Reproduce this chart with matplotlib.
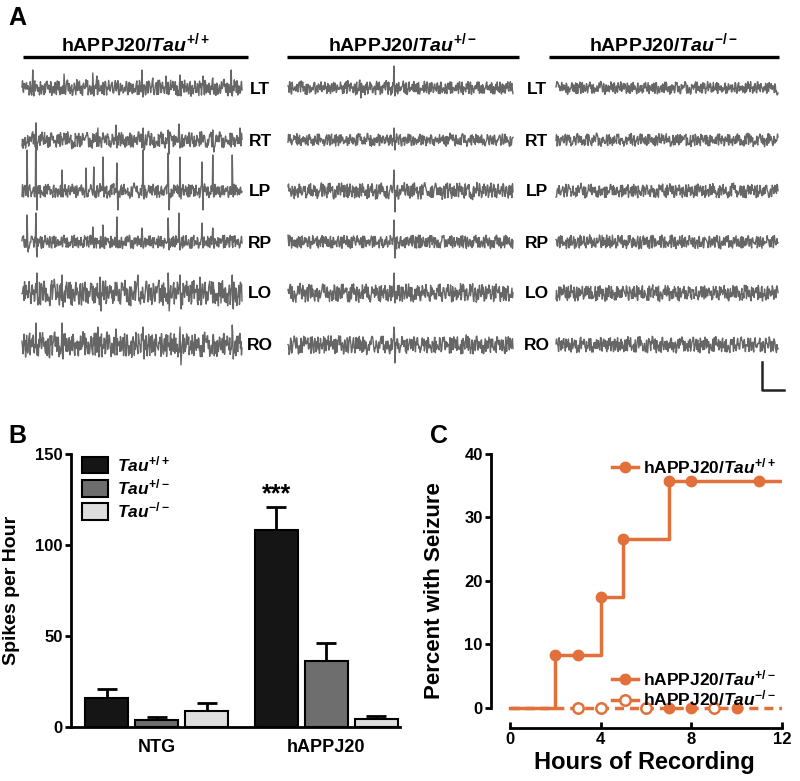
#!/usr/bin/env python
"""EEG traces, spike frequency and seizure incidence in hAPPJ20 mice by Tau genotype."""

import numpy as np
import matplotlib

matplotlib.use("Agg")
import matplotlib.pyplot as plt
from matplotlib.lines import Line2D
from matplotlib.patches import Patch

plt.rcParams.update({
    "font.family": ["Liberation Sans", "DejaVu Sans"],
    "font.weight": "bold",
    "axes.labelweight": "bold",
    "mathtext.fontset": "custom",
    "mathtext.rm": "Liberation Sans:bold",
    "mathtext.it": "Liberation Sans:italic:bold",
    "mathtext.bf": "Liberation Sans:bold",
})

# ---- panel A: EEG traces -------------------------------------------------
column_titles = [r"hAPPJ20/$Tau^{+/+}$", r"hAPPJ20/$Tau^{+/-}$", r"hAPPJ20/$Tau^{-/-}$"]
leads = ["LT", "RT", "LP", "RP", "LO", "RO"]

# hand-typed background texture (digits 0-9)
textures = [
    "47251 63908 46172 35908 47261 53809 47162 50938 56140 72839 "
    "51647 20839 16540 72839 14650 27381 90546 37218 40657 91328 "
    "46095 71328 64059 17362 37182 64059 31590 27148 36295 04173 "
    "82695 01384 72650 93841 72605 93091 82754 63029 18475 63028 "
    "19475 63028 19470",
    "62839 01475 82619 37405 18273 64950 39172 80564 21938 70465 "
    "91827 30465 12897 04356 28190 47538 26091 73548 20619 38475 "
    "03917 52846 19305 78264 90153 87246 05913 82467 09135 28746 "
    "91053 28746 10935 82647 01938 25476 09183 52746 01893 25647 "
    "36081 92754 16380",
    "58302 71946 25083 91674 30582 69147 02538 16974 35028 61497 "
    "20385 74169 85203 41697 50238 96417 28053 14796 05832 71469 "
    "38025 67194 20853 49617 02385 76941 53028 19674 25083 61947 "
    "08352 94176 30258 47169 52083 71496 28305 16947 83025 41769 "
    "05238 67914 30582",
]

# half band height of each trace (px), columns x leads
trace_amplitude = [
    [7, 7, 6, 6, 11, 11],
    [6, 5.5, 7, 6, 8, 8],
    [5.5, 5.5, 6, 6, 7, 7],
]

# spikes per trace: (x position px, height up, depth down)
trace_spikes = {
    (0, 0): [(33, 18, 8), (64, 14, 6), (93, 15, 8), (97, 12, 6), (142, 18, 9), (153, 10, 6),
             (166, 12, 6), (180, 13, 8), (203, 12, 6), (213, 10, 6), (231, 18, 8)],
    (0, 1): [(36, 17, 10), (98, 12, 6), (116, 15, 8), (143, 12, 10), (168, 10, 14),
             (179, 16, 8), (213, 10, 12), (240, 12, 6)],
    (0, 2): [(27, 41, 6), (36, 68, 19), (62, 21, 6), (86, 23, 6), (94, 24, 6), (103, 34, 6),
             (117, 28, 19), (143, 41, 8), (168, 38, 19), (180, 34, 8), (202, 29, 19),
             (213, 36, 6), (232, 36, 6)],
    (0, 3): [(27, 27, 10), (36, 29, 15), (93, 15, 6), (103, 17, 6), (117, 25, 6), (142, 14, 6),
             (168, 24, 8), (179, 29, 8), (202, 19, 6), (213, 14, 6)],
    (0, 4): [(37, 20, 12), (62, 18, 14), (100, 16, 18), (138, 18, 8), (168, 20, 18),
             (180, 18, 16), (200, 16, 12), (232, 18, 16)],
    (0, 5): [(36, 22, 10), (62, 22, 14), (98, 18, 12), (116, 16, 10), (143, 18, 14),
             (180, 18, 20), (232, 20, 14)],
    (1, 0): [(360, 8, 10), (394, 22, 8)],
    (1, 1): [(394, 12, 10)],
    (1, 2): [(394, 21, 21)],
    (1, 3): [(394, 22, 16)],
    (1, 4): [(394, 20, 10)],
    (1, 5): [(394, 18, 18)],
}

# ---- panel B: spikes per hour --------------------------------------------
groups = ["NTG", "hAPPJ20"]
genotype_labels = [r"$Tau^{+/+}$", r"$Tau^{+/-}$", r"$Tau^{-/-}$"]
spikes_mean = [[16, 108], [4, 36], [9, 4.5]]
spikes_sem = [[5, 13], [1.5, 10], [4, 1.5]]

# ---- panel C: seizure incidence ------------------------------------------
wt_hours = [0, 2, 3, 4, 5, 7, 8, 11, 12]
wt_percent = [0, 8.3, 8.3, 17.5, 26.6, 35.8, 35.8, 35.8, 35.8]
wt_event = [False, True, True, True, True, True, True, True, False]
het_hours = [7, 8, 10]
het_percent = [0, 0, 0]
ko_hours = [3, 4, 6, 9]
ko_percent = [0, 0, 0, 0]
recording_span = [0, 12]

GRAY = "#666666"
ORANGE = "#e2703a"
BAR_COLORS = ["#151515", "#6e6e6e", "#dedede"]


def digits(idx):
    d = np.array([int(c) for c in textures[idx].replace(" ", "")], dtype=float)
    return (d - 4.5) / 4.5


def texture(k):
    # interleave two typed textures for density, add a slow wander from their running mean
    a = np.roll(digits(k % 3), 23 * k)
    b = np.roll(digits((k + 1) % 3)[::-1], 41 * k)
    n = min(len(a), len(b))
    fast = np.empty(2 * n)
    fast[0::2] = a[:n]
    fast[1::2] = b[:n]
    fast = np.sign(fast) * np.abs(fast) ** 1.1
    slow = np.convolve(fast, np.ones(13) / 13, mode="same") * 2.2
    return fast + 0.5 * slow


fig = plt.figure(figsize=(8, 7.81), dpi=100)

ax_a = fig.add_axes([0, 0, 1, 1])
ax_a.set_xlim(0, 800)
ax_a.set_ylim(781, 0)
ax_a.axis("off")

col_span = [(22, 242), (288, 513), (556, 778)]
header_span = [(23, 248), (287, 519), (549, 779)]
row_y = [88, 140, 191, 242, 293, 345]
label_x = [260, 537]

for c, title in enumerate(column_titles):
    h0, h1 = header_span[c]
    ax_a.plot([h0, h1], [57, 57], color="black", lw=2.4, solid_capstyle="butt")
    ax_a.text((h0 + h1) / 2, 43, title, ha="center", va="center", fontsize=14)
    x0, x1 = col_span[c]
    for r, lead in enumerate(leads):
        k = c * 6 + r
        tex = texture(k)
        base = row_y[r]
        xs = np.linspace(x0, x1, len(tex))
        ys = base + trace_amplitude[c][r] * tex
        for sx, up, dn in trace_spikes.get((c, r), []):
            i = int(round((sx - x0) / (x1 - x0) * (len(tex) - 1)))
            i = min(max(i, 0), len(tex) - 3)
            ys[i] = base - up
            ys[i + 2] = base + dn
        ax_a.plot(xs, ys, color=GRAY, lw=1.0)
        if c < 2:
            ax_a.text(label_x[c], base + 1, lead, ha="center", va="center", fontsize=12.5)

# scale bar
ax_a.plot([762, 762, 784], [362, 390, 390], color="#222222", lw=1.8)

ax_a.text(8, 18, "A", fontsize=18, ha="left", va="center")
ax_a.text(8, 436, "B", fontsize=18, ha="left", va="center")
ax_a.text(430, 436, "C", fontsize=18, ha="left", va="center")

# ---- panel B -------------------------------------------------------------
ax_b = fig.add_axes([71 / 800, 1 - 727 / 781, 329 / 800, 273 / 781])
bar_w = 0.254
offsets = [-0.295, 0, 0.295]
gx = np.arange(len(groups))
for g in range(3):
    xs = gx + offsets[g]
    ax_b.bar(xs, spikes_mean[g], width=bar_w, color=BAR_COLORS[g], edgecolor="black",
             linewidth=1.5, zorder=2)
    ax_b.errorbar(xs, spikes_mean[g], yerr=[np.zeros(len(groups)), spikes_sem[g]],
                  fmt="none", ecolor="black", elinewidth=2, capsize=7.5, capthick=2, zorder=1)
ax_b.text(gx[1] + offsets[0], spikes_mean[0][1] + spikes_sem[0][1] + 0.5, "***",
          ha="center", va="bottom", fontsize=18)
ax_b.set_xlim(-0.507, 1.434)
ax_b.set_ylim(0, 150)
ax_b.set_yticks([0, 50, 100, 150])
ax_b.set_xticks(gx)
ax_b.set_xticklabels(groups, fontsize=13)
ax_b.tick_params(axis="x", length=0, pad=9)
ax_b.tick_params(axis="y", length=4, width=2, labelsize=12, pad=2)
for s in ["top", "right"]:
    ax_b.spines[s].set_visible(False)
for s in ["left", "bottom"]:
    ax_b.spines[s].set_linewidth(2)
ax_b.set_ylabel("Spikes per Hour", fontsize=14)
ax_b.yaxis.set_label_coords(-0.155, 0.5)
handles = [Patch(facecolor=BAR_COLORS[g], edgecolor="black", linewidth=1.5) for g in range(3)]
ax_b.legend(handles, genotype_labels, loc="upper left", bbox_to_anchor=(0.033, 1.0),
            frameon=False, fontsize=12.5, borderpad=0, borderaxespad=0, handlelength=1.5,
            handleheight=1.1, handletextpad=0.5, labelspacing=0.2)

# ---- panel C -------------------------------------------------------------
ax_c = fig.add_axes([491 / 800, 1 - 728 / 781, 291 / 800, 274 / 781])
ax_c.plot(recording_span, [0, 0], color=ORANGE, lw=2.5, ls=(0, (2.6, 1.7)), zorder=1)
ax_c.step(wt_hours, wt_percent, where="post", color=ORANGE, lw=2.5, zorder=2)
ev_x = [h for h, e in zip(wt_hours, wt_event) if e]
ev_y = [p for p, e in zip(wt_percent, wt_event) if e]
ax_c.plot(ev_x, ev_y, "o", color=ORANGE, ms=7.5, zorder=3)
ax_c.plot(het_hours, het_percent, "o", color=ORANGE, ms=7.5, zorder=3, clip_on=False)
ax_c.plot(ko_hours, ko_percent, "o", mfc="white", mec=ORANGE, mew=1.8, ms=7.5, zorder=3,
          clip_on=False)
ax_c.set_xlim(-0.838, 12)
ax_c.set_ylim(-3.15, 40)
ax_c.set_xticks([0, 4, 8, 12])
ax_c.set_yticks([0, 10, 20, 30, 40])
ax_c.spines["left"].set_bounds(0, 40)
ax_c.spines["bottom"].set_bounds(0, 12)
for s in ["top", "right"]:
    ax_c.spines[s].set_visible(False)
for s in ["left", "bottom"]:
    ax_c.spines[s].set_linewidth(2)
ax_c.tick_params(axis="y", length=4, width=2, labelsize=12, pad=2)
ax_c.tick_params(axis="x", direction="in", length=4, width=2, labelsize=12, pad=3)
ax_c.set_ylabel("Percent with Seizure", fontsize=16)
ax_c.yaxis.set_label_coords(-0.158, 0.5)
ax_c.set_xlabel("Hours of Recording", fontsize=17)
ax_c.xaxis.set_label_coords(0.526, -0.085)

h_wt = Line2D([], [], color=ORANGE, lw=2.5, marker="o", ms=7.5)
h_het = Line2D([], [], color=ORANGE, lw=2.5, marker="o", ms=7.5)
h_ko = Line2D([], [], color=ORANGE, lw=2.5, marker="o", ms=7.5, mfc="white", mew=1.8)
leg1 = ax_c.legend([h_wt], [column_titles[0]], loc="center left", bbox_to_anchor=(0.415, 0.956),
                   frameon=False, fontsize=12.5, borderpad=0, borderaxespad=0,
                   handlelength=1.5, handletextpad=0.3)
ax_c.add_artist(leg1)
ax_c.legend([h_het, h_ko], column_titles[1:], loc="center left", bbox_to_anchor=(0.415, 0.144),
            frameon=False, fontsize=12.5, borderpad=0, borderaxespad=0,
            handlelength=1.5, handletextpad=0.3, labelspacing=0.05)

fig.savefig("out.png", dpi=100)
